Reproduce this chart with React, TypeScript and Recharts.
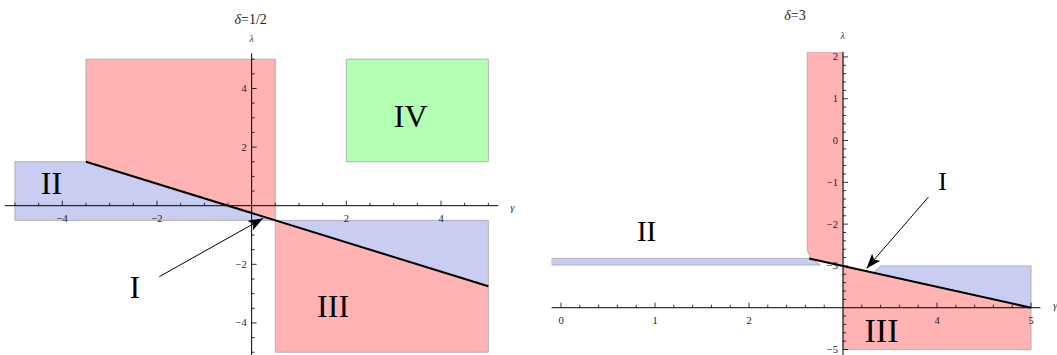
import {
  ComposedChart,
  Area,
  Line,
  Scatter,
  XAxis,
  YAxis,
  ReferenceLine,
} from "recharts";

type Range = [number, number] | null;

const RED = "#ffb3b3";
const BLUE = "#c9cdf2";
const GREEN = "#b3ffb3";
const EDGE = "#a3a3a3";
const SERIF = "'Liberation Serif', 'Times New Roman', serif";

// ---- delta = 1/2 ----
const leftX = [-5, -3.5, 0.5, 2, 5];
const leftRedUpper: Range[] = [null, [1.5, 5], [-0.5, 5], null, null];
const leftRedLower: Range[] = [null, null, [-5, -0.5], [-5, -1.25], [-5, -2.75]];
const leftBlueLeft: Range[] = [[-0.5, 1.5], [-0.5, 1.5], [-0.5, -0.5], null, null];
const leftBlueRight: Range[] = [null, null, [-0.5, -0.5], [-1.25, -0.5], [-2.75, -0.5]];
const leftGreen: Range[] = [null, null, null, [1.5, 5], [1.5, 5]];
const leftBoundary = [
  { x: -3.5, y: 1.5 },
  { x: 5, y: -2.75 },
];
const leftArrow = [
  { x: -1.95, y: -2.42 },
  { x: 0.245, y: -0.43 },
];
const leftLabels = [
  { x: -4.23, y: 0.76, text: "II" },
  { x: 3.36, y: 3.06, text: "IV" },
  { x: -2.47, y: -2.76, text: "I" },
  { x: 1.72, y: -3.42, text: "III" },
];
const leftXTickLabels = [-4, -2, 2, 4];
const leftYTickLabels = [-4, -2, 2, 4];

// ---- delta = 3 ----
const rightX = [-0.1, 2.62, 2.66, 2.76, 3, 3.32, 3.4, 5];
const rightRedUpper: Range[] = [null, [-2.62, 2.12], [-2.83, 2.12], [-2.88, 2.12], [-3, 2.12], null, null, null];
const rightRedLower: Range[] = [null, null, null, null, [-5, -3], [-5, -3.16], [-5, -3.2], [-5, -4]];
const rightBlueLeft: Range[] = [[-2.98, -2.82], [-2.98, -2.82], [-2.98, -2.82], [-2.98, -2.98], null, null, null, null];
const rightBlueRight: Range[] = [null, null, null, null, null, [-3.16, -3.16], [-3.2, -3.0], [-4, -3]];
const rightBoundary = [
  { x: 2.64, y: -2.82 },
  { x: 5, y: -4 },
];
const rightArrow = [
  { x: 3.91, y: -1.35 },
  { x: 3.25, y: -3.06 },
];
const rightLabels = [
  { x: 0.91, y: -2.17, text: "II" },
  { x: 4.06, y: -0.98, text: "I" },
  { x: 3.41, y: -4.55, text: "III" },
];
const rightXTickLabels = [0, 1, 2, 4, 5];
const rightYTickLabels = [2, 1, 0, -1, -2, -3, -5];

const steps = (from: number, to: number, step: number) => {
  const out: number[] = [];
  for (let v = from; v <= to + 1e-9; v += step) out.push(Math.round(v * 100) / 100);
  return out;
};

const fmt = (v: number) => (v < 0 ? "\u2212" + Math.abs(v) : String(v));

const buildRows = (xs: number[], series: Record<string, Range[]>) =>
  xs.map((x, i) => {
    const row: any = { x };
    Object.keys(series).forEach((k) => (row[k] = series[k][i]));
    return row;
  });

// closed outline of a range area, walked along the top then back along the bottom
const outline = (xs: number[], ranges: Range[]) => {
  const pts = xs.map((x, i) => ({ x, r: ranges[i] })).filter((p) => p.r != null) as { x: number; r: [number, number] }[];
  const top = pts.map((p) => ({ x: p.x, y: p.r[1] }));
  const bottom = pts.map((p) => ({ x: p.x, y: p.r[0] })).reverse();
  return [...top, ...bottom, top[0]];
};

const XTick = (p: any) => {
  const len = p.payload.major ? 5 : 3;
  return (
    <g>
      <line x1={p.cx} y1={p.cy} x2={p.cx} y2={p.cy - len} stroke="#000" strokeWidth={0.8} />
      {p.payload.label != null && (
        <text x={p.cx} y={p.cy + 12.5} textAnchor="middle" dominantBaseline="central" fontSize={10.5} fontFamily={SERIF} fill="#222">
          {fmt(p.payload.label)}
        </text>
      )}
    </g>
  );
};

const YTick = (p: any) => {
  const len = p.payload.major ? 5 : 3;
  return (
    <g>
      <line x1={p.cx} y1={p.cy} x2={p.cx + len} y2={p.cy} stroke="#000" strokeWidth={0.8} />
      {p.payload.label != null && (
        <text x={p.cx - 5} y={p.cy} textAnchor="end" dominantBaseline="central" fontSize={10.5} fontFamily={SERIF} fill="#222">
          {fmt(p.payload.label)}
        </text>
      )}
    </g>
  );
};

const RegionLabel = (p: any) => (
  <text x={p.cx} y={p.cy} textAnchor="middle" dominantBaseline="central" fontSize={p.payload.size} fontFamily={SERIF} fill="#000">
    {p.payload.text}
  </text>
);

function Panel(props: any) {
  const c = props.cfg;
  const xTicks = [
    ...c.xMinor.filter((v: number) => v !== c.crossX && !c.xMajor.includes(v)).map((v: number) => ({ x: v, y: c.crossY, major: false })),
    ...c.xMajor.map((v: number) => ({ x: v, y: c.crossY, major: true, label: c.xLabels.includes(v) ? v : null })),
  ];
  const yTicks = [
    ...c.yMinor.filter((v: number) => v !== c.crossY && !c.yMajor.includes(v)).map((v: number) => ({ x: c.crossX, y: v, major: false })),
    ...c.yMajor.map((v: number) => ({ x: c.crossX, y: v, major: true, label: c.yLabels.includes(v) ? v : null })),
  ];
  const labels = c.labels.map((l: any, i: number) => ({ ...l, size: c.labelSizes[i] }));
  return (
    <div style={{ position: "absolute", left: c.left, top: 0 }}>
      <ComposedChart width={c.width} height={c.height} data={c.rows} margin={c.margin}>
        <defs>
          <marker id={c.id + "-arrow"} markerWidth={16} markerHeight={12} refX={15} refY={6} orient="auto" markerUnits="userSpaceOnUse">
            <path d="M15,6 L0,0.5 L3.5,6 L0,11.5 Z" fill="#000" />
          </marker>
        </defs>
        <XAxis type="number" dataKey="x" domain={c.xDomain} allowDataOverflow hide />
        <YAxis type="number" dataKey="y" domain={c.yDomain} allowDataOverflow hide />
        {c.areas.map((a: any) => (
          <Area
            key={a.key}
            type="linear"
            dataKey={(d: any) => d[a.key]}
            fill={a.fill}
            fillOpacity={1}
            stroke="none"
            connectNulls={false}
            dot={false}
            activeDot={false}
            isAnimationActive={false}
          />
        ))}
        {c.areas.map((a: any) => (
          <Line
            key={a.key + "-edge"}
            data={outline(c.xs, c.series[a.key])}
            dataKey="y"
            type="linear"
            stroke={EDGE}
            strokeWidth={0.8}
            dot={false}
            activeDot={false}
            isAnimationActive={false}
          />
        ))}
        <ReferenceLine y={c.crossY} stroke="#000" strokeWidth={1} />
        <ReferenceLine x={c.crossX} stroke="#000" strokeWidth={1} />
        <Line data={c.boundary} dataKey="y" type="linear" stroke="#000" strokeWidth={2} dot={false} activeDot={false} isAnimationActive={false} />
        <Line
          data={c.arrow}
          dataKey="y"
          type="linear"
          stroke="#000"
          strokeWidth={1}
          dot={false}
          activeDot={false}
          markerEnd={`url(#${c.id}-arrow)`}
          isAnimationActive={false}
        />
        <Scatter data={xTicks} dataKey="y" shape={XTick} isAnimationActive={false} />
        <Scatter data={yTicks} dataKey="y" shape={YTick} isAnimationActive={false} />
        <Scatter data={labels} dataKey="y" shape={RegionLabel} isAnimationActive={false} />
      </ComposedChart>
    </div>
  );
}

const leftSeries = {
  blueLeft: leftBlueLeft,
  blueRight: leftBlueRight,
  redUpper: leftRedUpper,
  redLower: leftRedLower,
  green: leftGreen,
};

const rightSeries = {
  blueLeft: rightBlueLeft,
  blueRight: rightBlueRight,
  redUpper: rightRedUpper,
  redLower: rightRedLower,
};

const leftCfg = {
  id: "half",
  left: 0,
  width: 530,
  height: 360,
  margin: { top: 53.3, left: 5, right: 31.7, bottom: 1.9 },
  xDomain: [-5.21, 5.21],
  yDomain: [-5.2, 5.2],
  crossX: 0,
  crossY: 0,
  xMinor: steps(-5, 5, 0.5),
  yMinor: steps(-5, 5, 0.5),
  xMajor: leftXTickLabels,
  yMajor: leftYTickLabels,
  xLabels: leftXTickLabels,
  yLabels: leftYTickLabels,
  xs: leftX,
  series: leftSeries,
  rows: buildRows(leftX, leftSeries),
  areas: [
    { key: "blueLeft", fill: BLUE },
    { key: "blueRight", fill: BLUE },
    { key: "redUpper", fill: RED },
    { key: "redLower", fill: RED },
    { key: "green", fill: GREEN },
  ],
  boundary: leftBoundary,
  arrow: leftArrow,
  labels: leftLabels,
  labelSizes: [32, 32, 32, 32],
};

const rightCfg = {
  id: "three",
  left: 530,
  width: 527,
  height: 360,
  margin: { top: 51.9, left: 21.6, right: 16.6, bottom: 4.2 },
  xDomain: [-0.1, 5.1],
  yDomain: [-5.15, 2.12],
  crossX: 3,
  crossY: -4,
  xMinor: steps(0, 5, 0.2),
  yMinor: steps(-5, 2, 0.2),
  xMajor: steps(0, 5, 1).filter((v) => v !== 3),
  yMajor: steps(-5, 2, 1).filter((v) => v !== -4),
  xLabels: rightXTickLabels,
  yLabels: rightYTickLabels,
  xs: rightX,
  series: rightSeries,
  rows: buildRows(rightX, rightSeries),
  areas: [
    { key: "blueLeft", fill: BLUE },
    { key: "blueRight", fill: BLUE },
    { key: "redUpper", fill: RED },
    { key: "redLower", fill: RED },
  ],
  boundary: rightBoundary,
  arrow: rightArrow,
  labels: rightLabels,
  labelSizes: [29, 26, 34],
};

export default function App() {
  return (
    <div style={{ position: "absolute", left: 0, top: 0, width: 1057, height: 355, overflow: "hidden", background: "#fff" }}>
      <Panel cfg={leftCfg} />
      <Panel cfg={rightCfg} />
      <svg width={1057} height={355} style={{ position: "absolute", left: 0, top: 0, pointerEvents: "none" }} fontFamily={SERIF}>
        <text x={250.7} y={19} textAnchor="middle" dominantBaseline="central" fontSize={14} fill="#222">
          <tspan fontStyle="italic">δ</tspan>=1/2
        </text>
        <text x={251.7} y={38} textAnchor="middle" dominantBaseline="central" fontSize={10} fontStyle="italic" fill="#333">
          λ
        </text>
        <text x={512.3} y={206.7} textAnchor="middle" dominantBaseline="central" fontSize={11} fontStyle="italic" fill="#333">
          γ
        </text>
        <text x={795} y={15} textAnchor="middle" dominantBaseline="central" fontSize={14} fill="#222">
          <tspan fontStyle="italic">δ</tspan>=3
        </text>
        <text x={842.7} y={35} textAnchor="middle" dominantBaseline="central" fontSize={10} fontStyle="italic" fill="#333">
          λ
        </text>
        <text x={1053} y={305} textAnchor="start" dominantBaseline="central" fontSize={11} fontStyle="italic" fill="#333">
          γ
        </text>
      </svg>
    </div>
  );
}
